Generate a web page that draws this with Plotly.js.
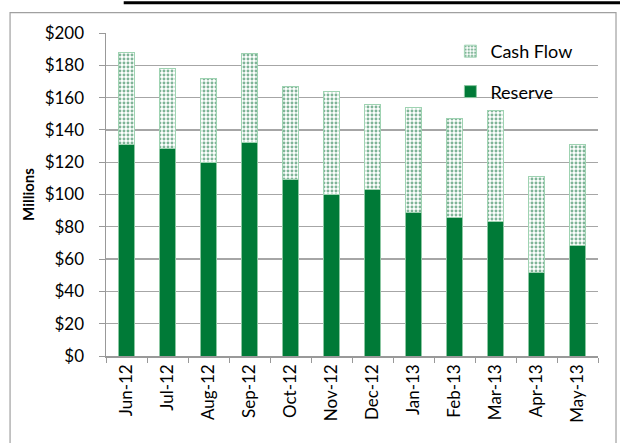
<!DOCTYPE html>
<html><head><meta charset="utf-8">
<script src="https://cdn.plot.ly/plotly-3.0.1.min.js"></script>
<style>html,body{margin:0;padding:0;background:#fff}#chart{width:620px;height:443px}</style>
</head><body><div id="chart"></div>
<script>
const months = ["Jun-12","Jul-12","Aug-12","Sep-12","Oct-12","Nov-12","Dec-12","Jan-13","Feb-13","Mar-13","Apr-13","May-13"];
const reserve = [131, 128.5, 120, 132.5, 109, 100, 103, 89, 85.5, 83.5, 52, 68.5];
const cashFlow = [57, 49.5, 52, 55, 58, 63.5, 53, 65, 61.5, 68.5, 59, 62.5];
const yTickVals = [0,20,40,60,80,100,120,140,160,180,200];
const yTickText = ["$0","$20","$40","$60","$80","$100","$120","$140","$160","$180","$200"];

const green = "#007A37";
const font = "Lato, 'Noto Sans', sans-serif";

const traces = [
  {type:"bar", name:"Reserve", x:months, y:reserve, legendgroup:"r", legendrank:2,
   marker:{color:green, line:{color:"#8cc7a2", width:1}}},
  {type:"bar", name:"Cash Flow", x:months, y:cashFlow, legendgroup:"c", legendrank:1,
   marker:{color:"#ffffff", line:{color:"#9fd3b2", width:1},
     pattern:{shape:".", fgcolor:"#006A2F", bgcolor:"#ffffff", size:4, solidity:0.42, fillmode:"overlay"}}}
];

const layout = {
  width:620, height:443,
  margin:{l:106, r:22, t:33, b:87},
  paper_bgcolor:"#fff", plot_bgcolor:"#fff",
  barmode:"stack", bargap:0.59,
  font:{family:font, size:17, color:"#000"},
  showlegend:true,
  legend:{x:0.70, y:1.0, xanchor:"left", yanchor:"top", traceorder:"grouped",
    tracegroupgap:14, font:{family:font, size:18, color:"#000"}, bgcolor:"rgba(0,0,0,0)"},
  xaxis:{type:"category", tickangle:-90, tickson:"boundaries", ticks:"outside", ticklen:5,
    tickcolor:"#999", showline:true, linecolor:"#999", linewidth:1.5, showgrid:false,
    tickfont:{family:font, size:17, color:"#000"}},
  yaxis:{range:[0,200], tickvals:yTickVals, ticktext:yTickText, ticks:"outside", ticklen:6,
    tickcolor:"#999", showline:true, linecolor:"#999", linewidth:1.5,
    showgrid:true, gridcolor:"#a6a6a6", gridwidth:1.3, zeroline:false,
    ticklabelstandoff:11,
    tickfont:{family:font, size:17, color:"#000"},
    title:{text:"<b>Millions</b>", font:{family:font, size:15, color:"#000"}, standoff:6}},
  shapes:[
    {type:"rect", xref:"paper", yref:"paper", x0:-0.195, x1:1.0366, y0:-0.35, y1:1.063,
     line:{color:"#a0a0a0", width:1.2}, fillcolor:"rgba(0,0,0,0)", layer:"below"},
    {type:"line", xref:"paper", yref:"paper", x0:0.036, x1:1.1, y0:1.094, y1:1.094,
     line:{color:"#000", width:3}}
  ]
};
Plotly.newPlot("chart", traces, layout, {displayModeBar:false, staticPlot:true});
</script></body></html>
